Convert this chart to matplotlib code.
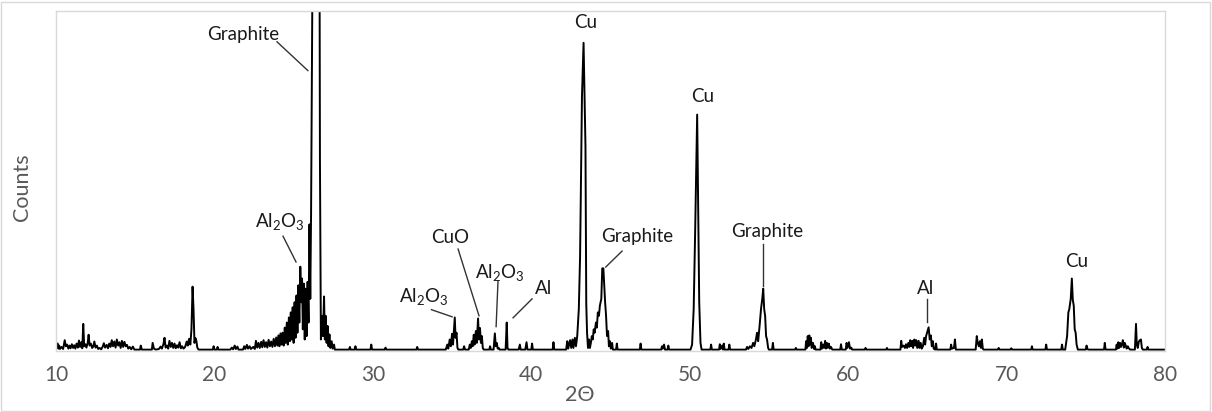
import numpy as np
import matplotlib
matplotlib.use("Agg")
import matplotlib.pyplot as plt
from matplotlib.patches import Rectangle

plt.rcParams['font.family'] = ['Lato', 'DejaVu Sans']
plt.rcParams['mathtext.fontset'] = 'custom'
plt.rcParams['mathtext.rm'] = 'Lato'
plt.rcParams['mathtext.it'] = 'Lato:italic'

# XRD pattern (counts scaled so the frame top = 100)
pattern = [
    (10.0, 2.5), (10.05, 0.5), (10.1, 1.8), (10.15, 0.3), (10.2, 1.2), (10.25, 0.2), (10.35, 0.8), (10.45, 0.2),
    (10.55, 2.8), (10.62, 1.0), (10.7, 1.5), (10.78, 0.3), (10.85, 1.2), (10.92, 0.4), (11.0, 1.6), (11.08, 0.5),
    (11.15, 1.3), (11.22, 0.3), (11.3, 1.8), (11.38, 0.6), (11.45, 2.7), (11.52, 0.8), (11.6, 2.2), (11.66, 0.4),
    (11.72, 7.6), (11.78, 1.0), (11.85, 1.6), (11.92, 0.6), (12.0, 2.0), (12.06, 4.4), (12.12, 1.2), (12.2, 1.8),
    (12.28, 0.5), (12.35, 0.9), (12.42, 2.4), (12.5, 0.6), (12.58, 1.2), (12.66, 0.2), (12.75, 0.5), (12.85, 0.1),
    (12.95, 0.9), (13.02, 1.9), (13.1, 0.6), (13.2, 1.4), (13.28, 0.4), (13.36, 1.8), (13.44, 0.8), (13.52, 2.8),
    (13.6, 1.0), (13.68, 2.4), (13.76, 0.6), (13.84, 3.0), (13.92, 1.2), (14.0, 2.2), (14.08, 0.5), (14.16, 2.6),
    (14.24, 0.8), (14.32, 2.3), (14.4, 1.0), (14.48, 1.4), (14.56, 0.3), (14.65, 0.8), (14.75, 0.1), (14.85, 0.9),
    (14.95, 0.0), (15.3, 0.0), (15.35, 1.2), (15.42, 0.0), (16.05, 0.0), (16.1, 2.0), (16.18, 0.3), (16.3, 0.0),
    (16.5, 0.2), (16.6, 0.9), (16.68, 0.3), (16.78, 1.6), (16.85, 3.5), (16.92, 0.6), (17.0, 1.2), (17.08, 0.3),
    (17.16, 2.6), (17.24, 0.8), (17.32, 2.0), (17.4, 0.5), (17.48, 1.8), (17.56, 0.4), (17.64, 1.3), (17.72, 0.6),
    (17.8, 2.2), (17.88, 0.4), (17.96, 1.0), (18.05, 0.3), (18.15, 0.8), (18.25, 2.4), (18.32, 1.2), (18.4, 3.2),
    (18.48, 1.5), (18.55, 6.0), (18.62, 18.6), (18.68, 12.0), (18.74, 2.0), (18.8, 3.4), (18.86, 2.6), (18.92, 0.6),
    (19.0, 0.0), (19.9, 0.0), (19.95, 1.0), (20.0, 0.0), (20.15, 0.0), (20.2, 0.8), (20.25, 0.0), (21.0, 0.0),
    (21.1, 0.6), (21.18, 0.1), (21.28, 1.2), (21.35, 0.2), (21.45, 0.9), (21.52, 0.0), (21.8, 0.0), (21.88, 1.0),
    (21.95, 0.2), (22.05, 1.4), (22.12, 0.3), (22.22, 1.0), (22.3, 0.2), (22.45, 0.8), (22.55, 0.2), (22.62, 2.6),
    (22.7, 0.6), (22.78, 2.0), (22.86, 0.5), (22.95, 2.3), (23.02, 0.7), (23.1, 2.8), (23.18, 0.8), (23.26, 2.2),
    (23.34, 0.6), (23.42, 2.9), (23.5, 1.0), (23.58, 2.4), (23.66, 0.8), (23.74, 3.2), (23.82, 1.0), (23.9, 3.6),
    (23.97, 1.2), (24.04, 4.2), (24.1, 1.0), (24.17, 4.8), (24.24, 1.5), (24.3, 5.0), (24.37, 1.2), (24.44, 6.5),
    (24.5, 2.0), (24.57, 8.0), (24.63, 1.5), (24.7, 9.5), (24.76, 2.5), (24.82, 11.0), (24.88, 3.0), (24.94, 12.5),
    (25.0, 2.0), (25.06, 14.0), (25.12, 3.5), (25.18, 16.0), (25.24, 5.0), (25.3, 19.0), (25.36, 8.0), (25.42, 24.5),
    (25.48, 14.0), (25.53, 21.0), (25.58, 6.0), (25.64, 19.5), (25.7, 3.0), (25.76, 18.0), (25.82, 4.0), (25.88, 20.0),
    (25.94, 8.0), (26.0, 37.0), (26.05, 15.0), (26.1, 40.0), (26.25, 160.0), (26.45, 200.0), (26.62, 150.0), (26.66, 56.0),
    (26.72, 3.0), (26.8, 10.0), (26.85, 4.0), (26.92, 15.7), (26.97, 3.0), (27.02, 10.0), (27.08, 2.0), (27.14, 7.0),
    (27.2, 1.0), (27.26, 4.5), (27.32, 0.5), (27.4, 2.5), (27.46, 0.3), (27.55, 1.5), (27.6, 0.0), (28.5, 0.0),
    (28.55, 0.8), (28.6, 0.0), (28.85, 0.0), (28.9, 1.0), (28.95, 0.0), (29.85, 0.0), (29.9, 1.5), (29.95, 0.0),
    (30.75, 0.0), (30.8, 0.6), (30.85, 0.0), (32.75, 0.0), (32.8, 0.8), (32.85, 0.0), (34.6, 0.0), (34.7, 1.5),
    (34.76, 0.3), (34.85, 3.0), (34.92, 1.0), (35.0, 4.7), (35.06, 1.5), (35.12, 6.0), (35.17, 9.5), (35.22, 3.5),
    (35.28, 5.0), (35.34, 0.5), (35.4, 0.0), (35.7, 0.0), (35.76, 1.0), (35.82, 0.0), (36.05, 0.0), (36.12, 1.5),
    (36.18, 0.5), (36.25, 2.5), (36.3, 1.0), (36.37, 4.4), (36.42, 1.5), (36.5, 5.5), (36.56, 2.0), (36.64, 9.2),
    (36.7, 3.0), (36.76, 6.4), (36.82, 2.0), (36.88, 4.0), (36.94, 0.5), (37.0, 0.0), (37.35, 0.0), (37.4, 1.0),
    (37.45, 0.0), (37.62, 0.0), (37.7, 4.8), (37.76, 1.0), (37.82, 2.0), (37.88, 0.3), (37.95, 0.5), (38.0, 0.0),
    (38.38, 0.0), (38.45, 8.0), (38.5, 0.5), (38.56, 0.0), (39.2, 0.0), (39.28, 1.5), (39.33, 0.0), (39.62, 0.0),
    (39.7, 2.2), (39.76, 0.0), (40.0, 0.0), (40.05, 1.8), (40.1, 0.0), (41.35, 0.0), (41.4, 2.2), (41.45, 0.0),
    (42.2, 0.0), (42.27, 2.5), (42.33, 0.3), (42.45, 2.8), (42.52, 0.5), (42.6, 3.0), (42.66, 0.5), (42.75, 3.5),
    (42.82, 1.0), (42.9, 4.0), (43.0, 12.0), (43.08, 27.6), (43.2, 75.0), (43.3, 90.6), (43.36, 76.0), (43.42, 60.0),
    (43.47, 13.5), (43.52, 5.0), (43.58, 0.5), (43.64, 3.0), (43.7, 0.5), (43.76, 2.0), (43.82, 4.0), (43.88, 3.0),
    (43.94, 6.0), (44.0, 5.0), (44.08, 8.0), (44.14, 6.5), (44.2, 11.0), (44.27, 10.0), (44.33, 13.0), (44.42, 15.0),
    (44.48, 24.0), (44.55, 24.0), (44.6, 19.6), (44.66, 14.0), (44.72, 10.0), (44.78, 4.0), (44.85, 5.5), (44.9, 1.0),
    (44.96, 2.5), (45.02, 0.3), (45.1, 2.0), (45.15, 0.0), (45.35, 0.0), (45.4, 1.8), (45.45, 0.0), (46.85, 0.0),
    (46.9, 1.8), (46.95, 0.0), (48.2, 0.0), (48.25, 1.0), (48.3, 0.3), (48.38, 1.5), (48.44, 0.0), (48.6, 0.0),
    (48.65, 1.2), (48.7, 0.0), (50.05, 0.0), (50.15, 1.5), (50.25, 12.0), (50.34, 34.0), (50.47, 69.4), (50.55, 34.0),
    (50.6, 14.0), (50.68, 2.0), (50.75, 0.0), (51.3, 0.0), (51.35, 1.5), (51.4, 0.0), (51.85, 0.0), (51.9, 1.6),
    (51.95, 0.2), (52.05, 1.2), (52.1, 0.0), (52.15, 1.8), (52.2, 0.0), (52.45, 0.0), (52.5, 1.5), (52.55, 0.0),
    (53.55, 0.0), (53.62, 0.8), (53.7, 0.2), (53.8, 1.0), (53.9, 0.5), (54.0, 2.0), (54.08, 1.0), (54.18, 3.0),
    (54.25, 5.0), (54.32, 2.5), (54.42, 7.5), (54.5, 12.0), (54.58, 15.0), (54.64, 18.0), (54.7, 12.0), (54.76, 10.0),
    (54.82, 4.0), (54.88, 3.0), (54.95, 0.5), (55.0, 0.0), (55.2, 0.0), (55.25, 2.0), (55.3, 0.0), (56.65, 0.0),
    (56.7, 0.5), (56.75, 0.0), (57.3, 0.0), (57.35, 2.5), (57.4, 0.5), (57.45, 4.0), (57.5, 1.0), (57.55, 4.2),
    (57.6, 1.5), (57.65, 3.5), (57.7, 0.5), (57.78, 2.0), (57.85, 0.2), (57.9, 1.0), (57.95, 0.0), (58.25, 0.0),
    (58.3, 2.2), (58.35, 0.3), (58.42, 1.5), (58.48, 0.5), (58.55, 2.6), (58.6, 0.3), (58.66, 2.0), (58.72, 0.5),
    (58.78, 1.8), (58.85, 0.3), (58.92, 0.8), (59.0, 0.0), (59.5, 0.0), (59.55, 1.6), (59.6, 0.0), (59.85, 0.0),
    (59.9, 2.0), (59.96, 0.5), (60.05, 2.2), (60.12, 0.3), (60.2, 0.6), (60.25, 0.0), (61.05, 0.0), (61.1, 0.5),
    (61.15, 0.0), (62.4, 0.0), (62.45, 0.5), (62.5, 0.0), (63.3, 0.0), (63.35, 2.6), (63.4, 0.8), (63.5, 1.2),
    (63.58, 0.5), (63.65, 1.6), (63.72, 0.5), (63.8, 2.0), (63.86, 0.8), (63.92, 2.8), (63.98, 1.0), (64.05, 2.6),
    (64.1, 0.5), (64.18, 3.0), (64.24, 1.2), (64.3, 2.8), (64.36, 0.5), (64.45, 2.6), (64.5, 0.5), (64.58, 2.0),
    (64.64, 0.3), (64.72, 1.0), (64.8, 3.5), (64.86, 1.5), (64.92, 4.0), (64.98, 5.0), (65.08, 6.6), (65.15, 3.0),
    (65.22, 4.2), (65.28, 1.0), (65.35, 2.5), (65.4, 0.3), (65.5, 0.0), (65.55, 1.8), (65.6, 0.0), (66.45, 0.0),
    (66.5, 1.5), (66.55, 0.3), (66.68, 0.5), (66.74, 3.0), (66.8, 0.0), (68.05, 0.0), (68.12, 4.0), (68.18, 2.0),
    (68.25, 1.0), (68.32, 2.5), (68.38, 0.5), (68.44, 3.0), (68.5, 0.3), (68.55, 0.0), (69.45, 0.0), (69.5, 0.5),
    (69.55, 0.0), (70.25, 0.0), (70.3, 0.4), (70.35, 0.0), (71.55, 0.0), (71.6, 1.0), (71.65, 0.0), (72.45, 0.0),
    (72.5, 1.5), (72.55, 0.0), (73.45, 0.0), (73.5, 1.5), (73.55, 0.0), (73.7, 0.0), (73.76, 2.0), (73.82, 4.0),
    (73.9, 11.0), (73.96, 12.0), (74.05, 15.0), (74.12, 21.0), (74.18, 14.7), (74.24, 13.0), (74.3, 6.0), (74.36, 5.0),
    (74.42, 1.5), (74.5, 0.0), (75.0, 0.0), (75.05, 1.2), (75.1, 0.3), (75.15, 0.0), (76.15, 0.0), (76.2, 2.0),
    (76.25, 0.0), (76.9, 0.0), (76.95, 1.5), (77.0, 0.3), (77.05, 2.2), (77.1, 0.5), (77.16, 2.0), (77.22, 0.8),
    (77.28, 1.6), (77.34, 2.8), (77.4, 0.6), (77.46, 2.0), (77.52, 1.2), (77.58, 0.3), (77.65, 1.0), (77.7, 0.5),
    (77.8, 0.0), (78.1, 0.0), (78.17, 7.6), (78.22, 1.5), (78.28, 0.5), (78.35, 2.4), (78.42, 2.8), (78.48, 3.0),
    (78.54, 0.5), (78.6, 0.0), (78.85, 0.0), (78.9, 0.8), (78.95, 0.0), (80.0, 0.0),
]
two_theta = np.array([p[0] for p in pattern])
counts = np.array([p[1] for p in pattern])

# peak labels: text, text position, leader line (from, to) or None
labels = ['Graphite', 'Al$_2$O$_3$', 'Al$_2$O$_3$', 'CuO', 'Al$_2$O$_3$', 'Al', 'Cu', 'Graphite', 'Cu', 'Graphite', 'Al', 'Cu']
label_xy = [(21.8, 93.2), (24.1, 37.9), (33.2, 15.6), (34.9, 33.2), (38.0, 22.9), (40.75, 18.2),
            (43.4, 96.5), (46.7, 33.5), (50.8, 74.7), (54.9, 35.0), (64.9, 18.2), (74.4, 25.9)]
leaders = [((23.95, 90.9), (25.9, 82.4)), ((24.33, 33.5), (25.15, 25.9)), ((33.7, 11.8), (35.0, 9.7)),
           ((35.38, 29.7), (36.7, 10.0)), ((37.9, 20.3), (37.78, 6.8)), ((40.05, 15.0), (38.85, 9.4)),
           None, ((45.73, 29.1), (44.7, 24.4)), None, ((54.63, 31.2), (54.63, 18.8)),
           ((64.99, 15.0), (64.99, 8.2)), None]

fig = plt.figure(figsize=(12.12, 4.12), dpi=100)
ax = fig.add_axes([56 / 1212, 61 / 412, 1109 / 1212, 340 / 412])

ax.plot(two_theta, counts, color='black', lw=1.4)

for txt, (tx, ty), ld in zip(labels, label_xy, leaders):
    ax.text(tx, ty, txt, ha='center', va='center', fontsize=13.5, color='#1a1a1a')
    if ld is not None:
        ax.plot([ld[0][0], ld[1][0]], [ld[0][1], ld[1][1]], color='#333333', lw=1.0)

ax.set_xlim(10, 80)
ax.set_ylim(-0.4, 100)
ax.set_xticks(np.arange(10, 81, 10))
ax.set_yticks([])
ax.tick_params(axis='x', length=0, pad=10, labelsize=15, labelcolor='#595959')
for s in ax.spines.values():
    s.set_color('#d9d9d9')
    s.set_linewidth(1.0)

fig.text(580 / 1212, 1 - 395 / 412, '2Θ', ha='center', va='center', fontsize=15.5, color='#595959')
fig.text(22 / 1212, 1 - 187 / 412, 'Counts', ha='center', va='center', rotation=90, fontsize=15.5, color='#595959')

fig.patches.append(Rectangle((1 / 1212, 1 / 412), 1209 / 1212, 409 / 412, transform=fig.transFigure,
                             fill=False, edgecolor='#d9d9d9', lw=1.0))

fig.savefig('out.png', dpi=100)
